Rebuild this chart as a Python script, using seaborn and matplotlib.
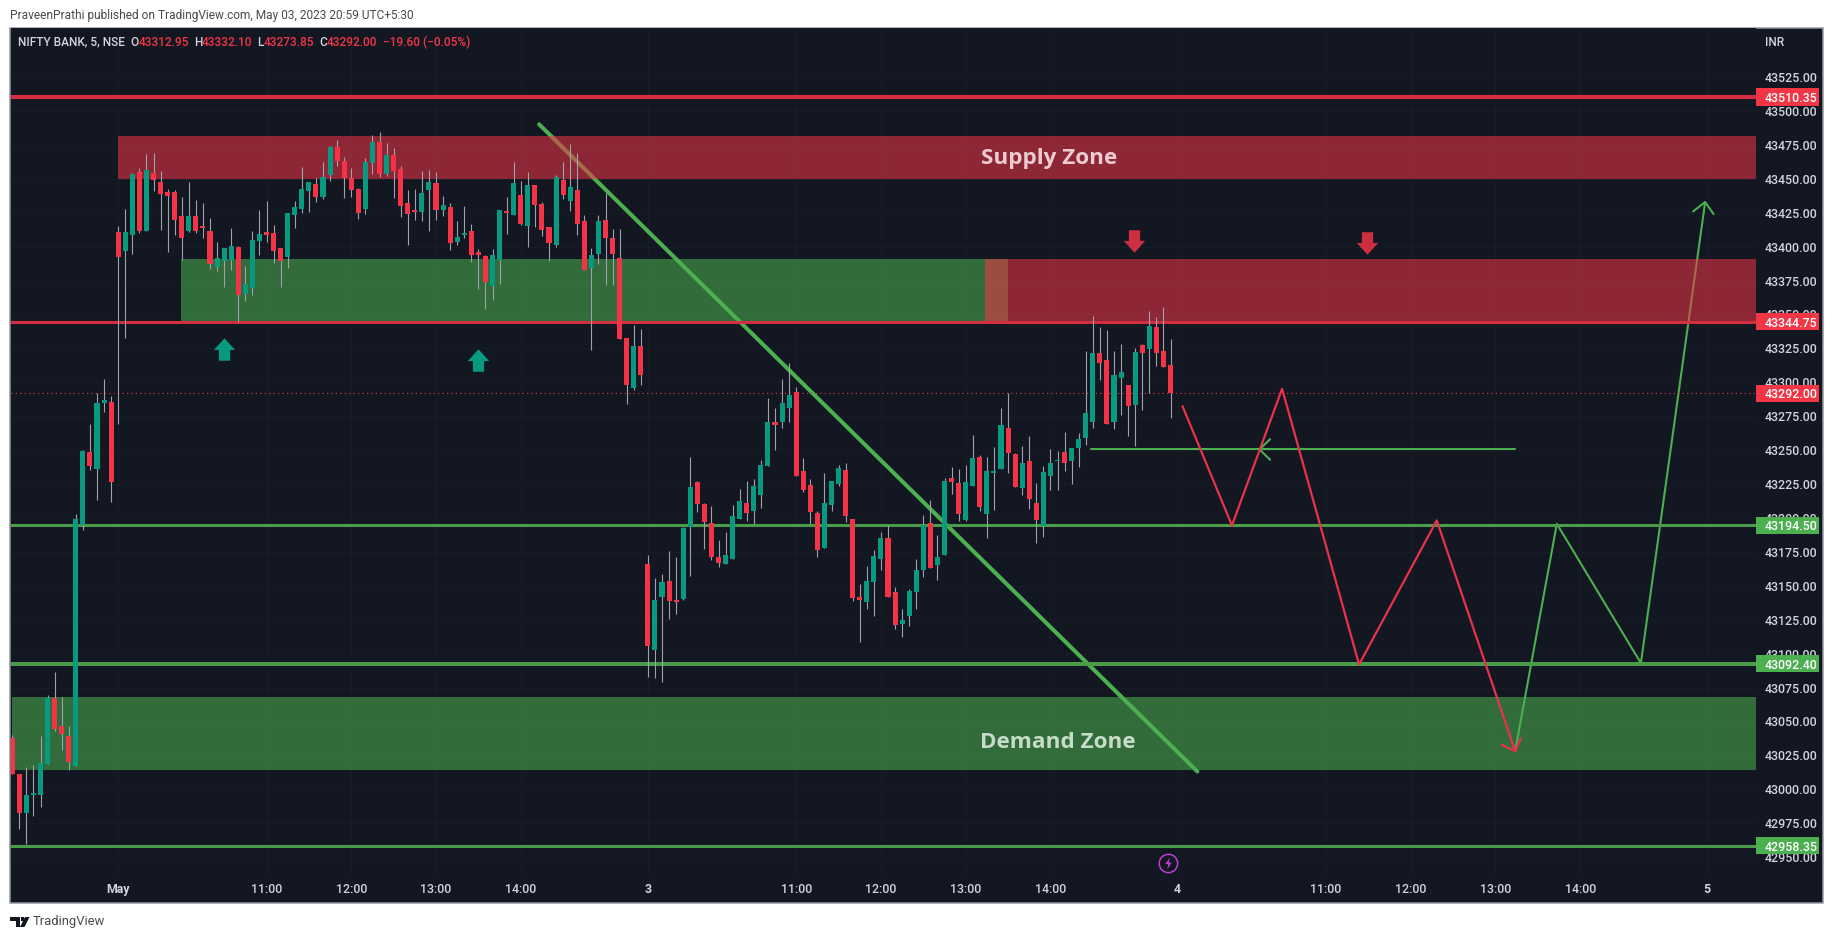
import matplotlib
matplotlib.use("Agg")
import matplotlib.pyplot as plt
import numpy as np
import pandas as pd
import seaborn as sns
from matplotlib.patches import Polygon, Rectangle
from matplotlib.path import Path

# ── Candles (5 min bars, index 0 = first visible bar) ─────────────────────────
opens = [
    43037.6, 43011, 42982.3, 42995.5, 42995.5, 43018.4, 43067, 43046.4, 43039, 43016.9, 43194.5, 43248.3, 43235.8, 43284.5, 43285.2,
    43410.5, 43396.5, 43408.3, 43454.8, 43411.3, 43454, 43447.4, 43440, 43440, 43422.3, 43411.3, 43422.3, 43415, 43411.3, 43384.7,
    43389.2, 43389.9, 43399.5, 43364.8, 43369.3, 43403.9, 43410.5, 43409.8, 43398.7, 43392.1, 43423, 43427.5, 43440.7, 43445.9, 43436.3,
    43452.5, 43473.2, 43462.9, 43450.3, 43442.2, 43427.5, 43461.4, 43476.9, 43453.3, 43467.3, 43457, 43431.9, 43426.7, 43425.3, 43441.5,
    43446.6, 43426.7, 43429, 43403.2, 43408.3, 43411.3, 43395.8, 43392.8, 43370.7, 43389.9, 43426, 43423, 43437.8, 43415, 43445.2,
    43431.2, 43414.2, 43401, 43448.9, 43433.4, 43441.5, 43418.6, 43384, 43394.3, 43419.4, 43406.1, 43391.4, 43332.4, 43295.5, 43326.5,
    43165.7, 43102.3, 43141.4, 43153.9, 43139.2, 43140.6, 43193, 43226.2, 43210, 43196, 43170.9, 43165.7, 43170.1, 43199.6, 43211.4,
    43204.8, 43216.6, 43238, 43270.4, 43271.1, 43280.7, 43293.2, 43234.3, 43224, 43203.3, 43177.5, 43209.2, 43225.4, 43235, 43198.9,
    43141.4, 43137.7, 43152.5, 43169.4, 43185.6, 43145.1, 43121.5, 43128.1, 43145.1, 43161.4, 43196, 43165.3, 43172.4, 43229.2, 43225.5,
    43198.2, 43223.3, 43244.7, 43202.7, 43232.9, 43235.8, 43266, 43246.9, 43221.8, 43241.7, 43210.8, 43193.8, 43230.7, 43241.7, 43248.4,
    43241.7, 43251.3, 43258.7, 43270.5, 43321.3, 43316.2, 43270.5, 43302.9, 43297.7, 43283, 43327.2, 43324.3, 43340.5, 43322.8, 43312.95,
]
highs = [
    43040, 43011, 43016.2, 43017.6, 43039, 43069.2, 43086.2, 43067.8, 43046.4, 43202.7, 43249.8, 43269, 43292.3, 43302.2, 43289.6,
    43415, 43427.5, 43454, 43457.7, 43468, 43468.8, 43455.5, 43442.2, 43441.5, 43436.3, 43447.4, 43434.1, 43431.9, 43420.8, 43403.2,
    43398.7, 43413.5, 43400.2, 43385.5, 43411.3, 43426.7, 43433.4, 43415.7, 43398.7, 43424.5, 43433.4, 43458.4, 43447.4, 43450.3, 43462.1,
    43473.9, 43479, 43465.8, 43457.7, 43443, 43465.1, 43482, 43484.2, 43476.1, 43472.4, 43459.2, 43441.5, 43442.2, 43455.5, 43456.2,
    43454.8, 43437, 43431.9, 43418.6, 43429.7, 43416.4, 43398, 43393.6, 43398, 43426.7, 43436.3, 43462.1, 43448.1, 43454.8, 43445.2,
    43432.6, 43414.2, 43452.5, 43462.1, 43475.4, 43468.8, 43423, 43398.7, 43423, 43439.3, 43412.7, 43412.7, 43332.4, 43342, 43339,
    43172.4, 43156.1, 43158.4, 43175.3, 43170.9, 43193.7, 43244.6, 43226.9, 43210.7, 43208.5, 43183.4, 43190, 43209.2, 43221, 43226.9,
    43228.4, 43243.1, 43288.8, 43280.7, 43302.1, 43313.9, 43296.2, 43243.9, 43228.4, 43205.5, 43232.8, 43227.6, 43239.4, 43240.2, 43198.9,
    43151, 43164.3, 43176.1, 43189.3, 43194.5, 43148.8, 43132.6, 43148, 43169.4, 43201.9, 43213, 43187.2, 43229.2, 43237.3, 43235.8,
    43238.8, 43260.9, 43246.1, 43244.7, 43252, 43280.8, 43292.3, 43247.6, 43252.8, 43260.1, 43225.5, 43238.1, 43250.6, 43249.1, 43263.1,
    43251.3, 43262.4, 43322.8, 43348.6, 43340.5, 43338.3, 43322.8, 43328, 43297.7, 43325, 43328, 43352.3, 43347.9, 43355.2, 43332.1,
]
lows = [
    43011, 42970.5, 42959.9, 42980, 42986.7, 43018.4, 43042.7, 43028.7, 43014, 43016.9, 43190.9, 43235.1, 43213, 43277.8, 43211.5,
    43269, 43332.4, 43394.3, 43409.8, 43411.3, 43440.7, 43412, 43395.8, 43408.3, 43390, 43410.5, 43409.8, 43406.1, 43383.3, 43381.8,
    43370, 43382.5, 43344.2, 43359.7, 43364.1, 43393.6, 43403.2, 43387.7, 43370, 43384, 43413.5, 43424.5, 43425.3, 43432.6, 43434.9,
    43448.1, 43459.2, 43435.6, 43436.3, 43420.1, 43423.8, 43453.3, 43451, 43451.8, 43435.6, 43421.6, 43401, 43419.4, 43418.6, 43411.3,
    43419.4, 43422.3, 43397.3, 43401, 43406.1, 43388.4, 43368.5, 43353.8, 43360.4, 43372.2, 43409, 43423, 43415.7, 43399.5, 43414.2,
    43407.6, 43389.2, 43399.5, 43434.9, 43426, 43408.3, 43382.5, 43323.5, 43387, 43371.5, 43371.5, 43331.7, 43283.7, 43294, 43297.8,
    43082.4, 43081.7, 43078.8, 43125.2, 43128.9, 43139.2, 43156.9, 43204.1, 43176.8, 43168.7, 43163.5, 43165.7, 43169.4, 43198.9, 43197.4,
    43195.2, 43207, 43238, 43249.8, 43266, 43271.1, 43231.3, 43218.8, 43195.2, 43170.9, 43177.5, 43204.8, 43223.2, 43196.7, 43138.5,
    43108.2, 43132.6, 43128.1, 43161.3, 43141.4, 43117.8, 43111.9, 43120, 43132.6, 43156.2, 43162.8, 43154, 43172.4, 43217.4, 43197.5,
    43197.5, 43223.3, 43204.9, 43185, 43205.6, 43235.8, 43232.9, 43222.6, 43216.7, 43206.3, 43181.3, 43185.7, 43220.4, 43220.4, 43234.4,
    43224.8, 43237.3, 43253.5, 43266, 43301.4, 43269, 43265.3, 43275.6, 43260.1, 43252.8, 43279.3, 43292.3, 43311.8, 43311, 43273.85,
]
closes = [
    43011, 42982.3, 42995.5, 42997, 43019, 43067, 43044.2, 43040.5, 43019.9, 43199, 43249.1, 43238, 43284.5, 43286.7, 43226.2,
    43392.1, 43410.5, 43453.3, 43411.3, 43456.2, 43448.9, 43438.5, 43437, 43419.4, 43406.1, 43422.3, 43411.3, 43413.5, 43387, 43391.4,
    43398.7, 43400.2, 43364.1, 43372.2, 43404.6, 43409, 43408.3, 43396.5, 43389.2, 43424.5, 43429, 43442.2, 43447.4, 43436.3, 43451,
    43473.2, 43462.9, 43450.3, 43441.5, 43424.5, 43462.1, 43476.9, 43453.3, 43467.3, 43455.5, 43429.7, 43423.8, 43425.3, 43439.3, 43447.4,
    43426.7, 43430.4, 43402.4, 43406.8, 43409.8, 43393.6, 43393.6, 43373.7, 43393.6, 43426.7, 43424.5, 43446.6, 43416.4, 43445.2, 43430.4,
    43412, 43402.4, 43451, 43437.8, 43443.7, 43416.4, 43382.5, 43393.6, 43418.6, 43406.1, 43394.3, 43331.7, 43297.8, 43326.5, 43305.1,
    43105.3, 43139.2, 43152.5, 43138.5, 43137.7, 43192.3, 43222.5, 43210, 43196.7, 43170.9, 43166.5, 43172.4, 43201.1, 43212.2, 43203.3,
    43223.2, 43239.4, 43270.4, 43268.9, 43285.1, 43290.3, 43231.3, 43220.3, 43204.1, 43176.1, 43210.7, 43226.9, 43236.5, 43201.1, 43140.7,
    43139.2, 43153.9, 43171.6, 43185.6, 43142.1, 43120.8, 43124.5, 43145.8, 43162, 43194.5, 43162.8, 43170.9, 43227, 43226.2, 43202.7,
    43226.2, 43243.9, 43207.8, 43234.4, 43234.4, 43268.3, 43247.6, 43222.6, 43240.3, 43213.7, 43198.2, 43233.6, 43240.3, 43242.5, 43240.3,
    43251.3, 43257.9, 43277.1, 43321.3, 43314, 43269, 43305.1, 43307.3, 43282.3, 43322.1, 43321.3, 43341.2, 43321.3, 43311, 43292,
]

# ── Axis ticks ────────────────────────────────────────────────────────────────
price_ticks = [43525 - 25 * n for n in range(24)]
time_ticks = [15, 36, 48, 60, 72, 90, 111, 123, 135, 147, 165, 186, 198, 210, 222, 240]
time_labels = ["May", "11:00", "12:00", "13:00", "14:00", "3", "11:00", "12:00", "13:00", "14:00",
               "4", "11:00", "12:00", "13:00", "14:00", "5"]
date_labels = ["May", "3", "4", "5"]

# ── Drawn levels, zones, paths (bar index / price) ────────────────────────────
red_levels = [43510.35, 43344.75]
red_widths = [2.9, 2.2]
green_levels = [43194.50, 43092.40, 42958.35]
green_widths = [2.2, 2.9, 2.2]
last_price = 43292.00

supply_top = (43449.6, 43481.3)
supply_low = (43344.75, 43390.6)
support_band = (43344.75, 43390.6)
demand_zone = (43013.9, 43067.7)
supply_top_x = (15.0, 246.9)
supply_low_x = (137.8, 246.9)
support_band_x = (23.9, 141.0)
demand_zone_x = (0.0, 246.9)

trend_x = [74.6, 167.8]
trend_y = [43490.2, 43013.1]

red_path_x = [165.7, 172.7, 179.8, 190.7, 201.7, 212.8]
red_path_y = [43282.4, 43194.5, 43295.2, 43092.0, 43198.2, 43028.1]
red_head_x = [210.9, 212.8, 213.6]
red_head_y = [43032.8, 43028.1, 43037.7]

green_path_x = [212.8, 218.7, 230.6, 239.7]
green_path_y = [43028.1, 43195.7, 43093.0, 43432.9]
green_head_x = [238.0, 239.7, 240.9]
green_head_y = [43426.0, 43432.9, 43424.0]

ray_x = [152.7, 212.8]
ray_y = [43250.5, 43250.5]
ray_head_x = [178.1, 176.6, 178.1]
ray_head_y = [43258.1, 43250.5, 43242.9]

up_arrow_x = [30.0, 65.9]
up_arrow_y = [43324.3, 43316.5]
down_arrow_x = [158.8, 191.8]
down_arrow_y = [43403.9, 43402.8]

BG = "#131722"
TXT = "#d1d4dc"
UP = "#089981"
DOWN = "#f23645"
LINE_RED = "#d32f40"
LINE_GREEN = "#4a9c4a"
TOOL_GREEN = "#4caf50"
FONT = "Roboto"
W, H = 1834, 939


def fx(px):
    return px / W


def fy(px):
    return 1 - px / H


sns.set_theme(style="dark", rc={"font.family": FONT, "axes.facecolor": BG, "figure.facecolor": "white"})

fig = plt.figure(figsize=(W / 100, H / 100), dpi=100)
fig.add_artist(Rectangle((fx(9.5), fy(903)), fx(1823 - 9.5), (903 - 27.5) / H, transform=fig.transFigure,
                         fc=BG, ec="#9598a1", lw=1.1, zorder=-5))
ax = fig.add_axes([fx(10.5), fy(875), fx(1756 - 10.5), (875 - 28) / H], facecolor=BG)
ax.set_xlim(-0.25, 246.9)
ax.set_ylim(42936.8, 43561.2)
sns.despine(ax=ax, left=True, bottom=True, right=True, top=True)

ax.set_axisbelow(True)
ax.grid(True, color="#191d28", lw=0.7)

# zones: the demand zone sits under the drawn lines, the upper bands over them
ax.fill_between(demand_zone_x, *demand_zone, color=TOOL_GREEN, alpha=0.56, lw=0, zorder=0.9)
ax.fill_between(supply_top_x, *supply_top, color=DOWN, alpha=0.55, lw=0, zorder=1.2)
ax.fill_between(support_band_x, *support_band, color=TOOL_GREEN, alpha=0.56, lw=0, zorder=1.2)
ax.fill_between(supply_low_x, *supply_low, color=DOWN, alpha=0.55, lw=0, zorder=1.3)

ax.text(146.8, 43465.1, "Supply Zone", color="#ecccd0", fontsize=16.2, fontweight="bold",
        ha="center", va="center", zorder=2, family="Open Sans")
ax.text(148.0, 43034.3, "Demand Zone", color="#c6dcc8", fontsize=16.2, fontweight="bold",
        ha="center", va="center", zorder=2, family="Open Sans")

# levels
for level, width in zip(red_levels, red_widths):
    ax.axhline(level, color=LINE_RED, lw=width, zorder=2.2)
for level, width in zip(green_levels, green_widths):
    ax.axhline(level, color=LINE_GREEN, lw=width, zorder=2.2)
ax.axhline(last_price, color=DOWN, lw=0.8, ls=(0, (1, 3)), zorder=2.2)

# drawn paths
sns.lineplot(x=trend_x, y=trend_y, sort=False, estimator=None, color=TOOL_GREEN, lw=2.9, ax=ax, zorder=1.0,
             solid_capstyle="round")
sns.lineplot(x=ray_x, y=ray_y, sort=False, estimator=None, color=TOOL_GREEN, lw=1.5, ax=ax, zorder=3)
sns.lineplot(x=ray_head_x, y=ray_head_y, sort=False, estimator=None, color=TOOL_GREEN, lw=1.5, ax=ax, zorder=3)
sns.lineplot(x=green_path_x, y=green_path_y, sort=False, estimator=None, color=TOOL_GREEN, lw=1.5, ax=ax, zorder=1.0)
sns.lineplot(x=green_head_x, y=green_head_y, sort=False, estimator=None, color=TOOL_GREEN, lw=1.5, ax=ax, zorder=1.0)
sns.lineplot(x=red_path_x, y=red_path_y, sort=False, estimator=None, color="#e8324a", lw=1.6, ax=ax, zorder=3.1)
sns.lineplot(x=red_head_x, y=red_head_y, sort=False, estimator=None, color="#e8324a", lw=1.6, ax=ax, zorder=3.1)

# candles
candles = pd.DataFrame({"open": opens, "high": highs, "low": lows, "close": closes})
candles["bar"] = np.arange(len(candles))
candles["rising"] = candles["close"] >= candles["open"]
ax.vlines(candles["bar"], candles["low"], candles["high"], color="#9fa2ab", lw=0.8, zorder=4)
body = (candles["close"] - candles["open"]).abs().clip(lower=1.0)
ax.bar(candles["bar"], body, bottom=candles[["open", "close"]].min(axis=1), width=0.72,
       color=np.where(candles["rising"], UP, "#f53347"), lw=0, zorder=5)

# arrows
up_marker = Path([(-0.5, -1), (0.5, -1), (0.5, -0.05), (0.95, -0.05), (0, 1), (-0.95, -0.05), (-0.5, -0.05), (-0.5, -1)],
                 closed=True)
down_marker = Path([(-0.5, 1), (0.5, 1), (0.5, 0.05), (0.95, 0.05), (0, -1), (-0.95, 0.05), (-0.5, 0.05), (-0.5, 1)],
                   closed=True)
ax.scatter(up_arrow_x, up_arrow_y, marker=up_marker, s=262, color=UP, lw=0, zorder=6)
ax.scatter(down_arrow_x, down_arrow_y, marker=down_marker, s=262, color="#cc2f40", lw=0, zorder=6)

# lightning badge on the session marker
ax.scatter([163.7], [42945.3], s=175, facecolor="none", edgecolor="#c13bd6", lw=1.1, zorder=6)
bolt = Path([(0.2, 1), (-0.55, -0.1), (-0.05, -0.1), (-0.2, -1), (0.55, 0.15), (0.05, 0.15), (0.2, 1)], closed=True)
ax.scatter([163.7], [42945.3], s=70, marker=bolt, color="#c13bd6", lw=0, zorder=6)

# axes ticks
ax.yaxis.tick_right()
ax.set_yticks(price_ticks)
ax.set_yticklabels([f"{p:.2f}" for p in price_ticks])
ax.set_xticks(time_ticks)
ax.set_xticklabels(time_labels)
ax.tick_params(axis="y", length=0, pad=6.5, labelsize=8.9, labelcolor=TXT)
ax.tick_params(axis="x", length=0, pad=5.6, labelsize=8.9, labelcolor=TXT)
for lbl in ax.get_yticklabels() + ax.get_xticklabels():
    lbl.set_fontweight("medium")
for lbl in ax.get_xticklabels():
    if lbl.get_text() in date_labels:
        lbl.set_fontweight("bold")

# price tags
tag_tr = ax.get_yaxis_transform()
tag_w = (1819 - 1756) / (1756 - 10.5)
for level, color in [(red_levels[0], DOWN), (red_levels[1], DOWN), (last_price, DOWN),
                     (green_levels[0], TOOL_GREEN), (green_levels[1], TOOL_GREEN), (green_levels[2], TOOL_GREEN)]:
    ax.add_patch(Rectangle((1, level - 6.3), tag_w, 12.6, transform=tag_tr, fc=color, ec="none",
                           clip_on=False, zorder=20))
    ax.text(1 + 9 / (1756 - 10.5), level, f"{level:.2f}", transform=tag_tr, color="white", fontsize=8.9,
            fontweight="medium", va="center_baseline", ha="left", clip_on=False, zorder=21)

# header, legend, footer
fig.text(fx(10), fy(15.5), "PraveenPrathi published on TradingView.com, May 03, 2023 20:59 UTC+5:30",
         color="#4a4a4a", fontsize=8.6, va="center")
fig.text(fx(1765), fy(42), "INR", color=TXT, fontsize=8.6, va="center", fontweight="medium")
legend_parts = [
    (17.8, "NIFTY BANK, 5, NSE", TXT), (130.4, "O", TXT), (139, "43312.95", DOWN), (194, "H", TXT),
    (202, "43332.10", DOWN), (257, "L", TXT), (264, "43273.85", DOWN), (319.4, "C", TXT), (327, "43292.00", DOWN),
    (382.6, "\u221219.60 (\u22120.05%)", DOWN),
]
for px, label, color in legend_parts:
    fig.text(fx(px), fy(42), label, color=color, fontsize=8.6, va="center", fontweight="medium")

fig.text(fx(33), fy(922), "TradingView", color="#4a4a4a", fontsize=9.4, va="center")
logo_t = [(10, 917), (19.5, 917), (19.5, 927), (15.5, 927), (15.5, 921), (10, 921)]
logo_slash = [(25, 917), (29.5, 917), (24.5, 927), (20, 927)]
for shape in (logo_t, logo_slash):
    fig.add_artist(Polygon([(fx(a), fy(b)) for a, b in shape], closed=True, transform=fig.transFigure,
                           fc="#131722", ec="none"))
fig.add_artist(Rectangle((fx(20.5), fy(920.5)), fx(3.5), 3.5 / H, transform=fig.transFigure, fc="#131722", ec="none"))

fig.savefig("out.png", dpi=100)
